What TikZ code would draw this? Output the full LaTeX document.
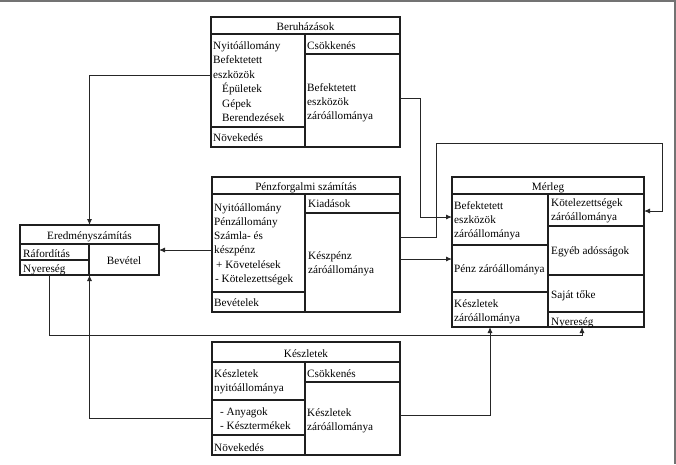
\documentclass[tikz,border=0pt]{standalone}
\usepackage{fontspec}
\setmainfont{Liberation Serif}
\usetikzlibrary{arrows.meta}
\begin{document}
\begin{tikzpicture}[x=1pt,y=-1pt,
  box/.style={draw=black!88, line width=1.3pt, inner sep=0pt, outer sep=0pt, anchor=north west},
  div/.style={draw=black!88, line width=1.1pt},
  conn/.style={draw=black!85, line width=0.9pt, -{Latex[length=6pt,width=5pt]}},
  tx/.style={anchor=base west, inner sep=0pt, font=\fontsize{11.2}{14}\selectfont},
  tc/.style={anchor=base, inner sep=0pt, font=\fontsize{11.2}{14}\selectfont}]
\useasboundingbox (0,0) rectangle (676,464);
% frame
\draw[black!55, line width=1.5pt] (0,1) -- (675,1) -- (675,464);

% ---------- Beruházások ----------
\node[box, minimum width=189pt, minimum height=130pt] (ber) at (211,17) {};
\draw[div] (211,34) -- (400,34);
\draw[div] (305,34) -- (305,147);
\draw[div] (305,54) -- (400,54);
\draw[div] (211,127) -- (305,127);
\node[tc] (berT) at (305.5,30) {Beruházások};
\node[tx] (ber1) at (213,49.5) {Nyitóállomány};
\node[tx] (ber2) at (213,63.9) {Befektetett};
\node[tx] (ber3) at (213,78.3) {eszközök};
\node[tx] (ber4) at (222,92.7) {Épületek};
\node[tx] (ber5) at (222,107.1) {Gépek};
\node[tx] (ber6) at (222,121.5) {Berendezések};
\node[tx] (ber7) at (213,141) {Növekedés};
\node[tx] (ber8) at (307,49) {Csökkenés};
\node[tx] (ber9) at (307,91) {Befektetett};
\node[tx] (ber10) at (307,105.4) {eszközök};
\node[tx] (ber11) at (307,119.8) {záróállománya};

% ---------- Pénzforgalmi számítás ----------
\node[box, minimum width=188pt, minimum height=135pt] (penz) at (212,177) {};
\draw[div] (212,194) -- (400,194);
\draw[div] (305,194) -- (305,312);
\draw[div] (305,213) -- (400,213);
\draw[div] (212,292) -- (305,292);
\node[tc] (penzT) at (306,190) {Pénzforgalmi számítás};
\node[tx] (p1) at (214,211) {Nyitóállomány};
\node[tx] (p2) at (214,225.3) {Pénzállomány};
\node[tx] (p3) at (214,239.6) {Számla- és};
\node[tx] (p4) at (214,253.9) {készpénz};
\node[tx] (p5) at (216,268.2) {+ Követelések};
\node[tx] (p6) at (215,282.5) {- Kötelezettségek};
\node[tx] (p7) at (214,306) {Bevételek};
\node[tx] (p8) at (308,207) {Kiadások};
\node[tx] (p9) at (308,259) {Készpénz};
\node[tx] (p10) at (308,273.3) {záróállománya};

% ---------- Készletek ----------
\node[box, minimum width=188pt, minimum height=113pt] (kesz) at (212,342) {};
\draw[div] (212,362) -- (400,362);
\draw[div] (305,362) -- (305,455);
\draw[div] (305,382) -- (400,382);
\draw[div] (212,400) -- (305,400);
\draw[div] (212,435) -- (305,435);
\node[tc] (keszT) at (306,357) {Készletek};
\node[tx] (k1) at (214,377) {Készletek};
\node[tx] (k2) at (214,391.3) {nyitóállománya};
\node[tx] (k3) at (220,415) {- Anyagok};
\node[tx] (k4) at (220,429.3) {- Késztermékek};
\node[tx] (k5) at (214,451) {Növekedés};
\node[tx] (k6) at (307,377) {Csökkenés};
\node[tx] (k7) at (307,416) {Készletek};
\node[tx] (k8) at (307,430.3) {záróállománya};

% ---------- Eredményszámítás ----------
\node[box, minimum width=139pt, minimum height=50pt] (ered) at (20,225) {};
\draw[div] (20,244) -- (159,244);
\draw[div] (89,244) -- (89,275);
\draw[div] (20,260) -- (89,260);
\node[tc] (eredT) at (89.5,239) {Eredményszámítás};
\node[tx] (e1) at (23,257) {Ráfordítás};
\node[tx] (e2) at (23,272) {Nyereség};
\node[tc] (e3) at (124,264) {Bevétel};

% ---------- Mérleg ----------
\node[box, minimum width=192pt, minimum height=150pt] (mer) at (452,177) {};
\draw[div] (452,194) -- (644,194);
\draw[div] (548,194) -- (548,327);
\draw[div] (452,245) -- (548,245);
\draw[div] (452,292) -- (548,292);
\draw[div] (548,226) -- (644,226);
\draw[div] (548,275) -- (644,275);
\draw[div] (548,312) -- (644,312);
\node[tc] (merT) at (548,190) {Mérleg};
\node[tx] (m1) at (454,209) {Befektetett};
\node[tx] (m2) at (454,223.3) {eszközök};
\node[tx] (m3) at (454,237.6) {záróállománya};
\node[tx] (m4) at (454,272) {Pénz záróállománya};
\node[tx] (m5) at (454,307) {Készletek};
\node[tx] (m6) at (454,321.3) {záróállománya};
\node[tx] (m7) at (551,206) {Kötelezettségek};
\node[tx] (m8) at (551,220.3) {záróállománya};
\node[tx] (m9) at (551,254) {Egyéb adósságok};
\node[tx] (m10) at (551,298) {Saját tőke};
\node[tx] (m11) at (551,325) {Nyereség};

% ---------- connectors ----------
\draw[conn] (ber.west |- 0,75) -| (ered.north);
\draw[conn] (ber.east |- 0,98) -- (420,98) |- (mer.west |- 0,217);
\draw[conn] (penz.east |- 0,237) -- (436,237) |- (662,143) |- (mer.east |- 0,211);
\draw[conn] (penz.east |- 0,259) -- (mer.west |- 0,259);
\draw[conn] (penz.west |- ered.east) -- (ered.east);
\draw[conn] (kesz.west |- 0,418) -| (ered.south);
\draw[conn] (kesz.east |- 0,415) -| (mer.south west -| 490,0);
\draw[conn] (ered.south west -| 49,0) |- (582,335) -- (mer.south west -| 582,0);
\end{tikzpicture}
\end{document}
